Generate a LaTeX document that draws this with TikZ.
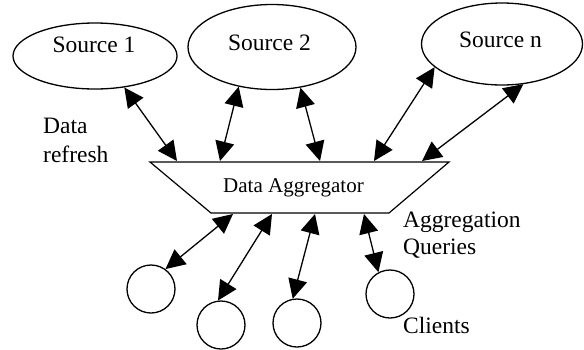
\documentclass[tikz,border=0pt]{standalone}
\usepackage{fontspec}
\setmainfont{Liberation Serif}
\usetikzlibrary{arrows.meta,shapes.geometric}
\begin{document}
\begin{tikzpicture}[x=1pt,y=-1pt,
  src/.style={draw,ellipse,line width=1.3pt,inner sep=0pt},
  cli/.style={draw,circle,line width=1.3pt,inner sep=0pt,minimum size=48pt},
  lbl/.style={font=\fontsize{23.5}{28}\selectfont,inner sep=0pt,anchor=base west},
  srclbl/.style={font=\fontsize{23.5}{28}\selectfont,inner sep=0pt,anchor=base},
  link/.style={{Triangle[length=19.5pt,width=19pt]}-{Triangle[length=19.5pt,width=19pt]},line width=1.3pt}]
\useasboundingbox (0,0) rectangle (584,349);
% sources
\node[src,minimum width=164pt,minimum height=66pt] (s1) at (95,56) {};
\node[src,minimum width=168pt,minimum height=85pt] (s2) at (272,47) {};
\node[src,minimum width=161pt,minimum height=82pt] (sn) at (502,44) {};
\node[srclbl] (t1) at (94,52) {Source 1};
\node[srclbl] (t2) at (269.5,50) {Source 2};
\node[srclbl] (tn) at (500.5,47) {Source n};
% aggregator
\coordinate (tl) at (150,162);
\coordinate (tr) at (449,162);
\coordinate (br) at (389,213);
\coordinate (bl) at (211,213);
\draw[line width=1.2pt] (tl) -- (tr) -- (br) -- (bl) -- cycle;
\node[font=\fontsize{21}{25}\selectfont,inner sep=0pt,anchor=base] (agg) at (293.5,192) {Data Aggregator};
% clients
\node[cli] (c1) at (151,289) {};
\node[cli] (c2) at (221,325) {};
\node[cli] (c3) at (297,323) {};
\node[cli] (c4) at (390,294) {};
% arrow ends on aggregator
\coordinate (a1) at (177,161);
\coordinate (a2) at (220,161);
\coordinate (a3) at (320,161);
\coordinate (a4) at (374,161);
\coordinate (a5) at (422,161);
\coordinate (b1) at (233,214);
\coordinate (b2) at (272,214);
\coordinate (b3) at (315,214);
\coordinate (b4) at (364,214);
% connectors
\draw[link] (s1.-47) -- (a1);
\draw[link] (s2.-130.5) -- (a2);
\draw[link] (s2.-55.3) -- (a3);
\draw[link] (sn.-161.3) -- (a4);
\draw[link] (sn.-62.9) -- (a5);
\draw[link] (b1) -- (c1.54);
\draw[link] (b2) -- (c2.97);
\draw[link] (b3) -- (c3.100);
\draw[link] (b4) -- (c4.118.6);
% labels
\node[lbl] (dr1) at (43,133) {Data};
\node[lbl] (dr2) at (43,162) {refresh};
\node[lbl] (aq1) at (403,227) {Aggregation};
\node[lbl] (aq2) at (403,254) {Queries};
\node[lbl] (cl) at (403,333) {Clients};
\end{tikzpicture}
\end{document}
